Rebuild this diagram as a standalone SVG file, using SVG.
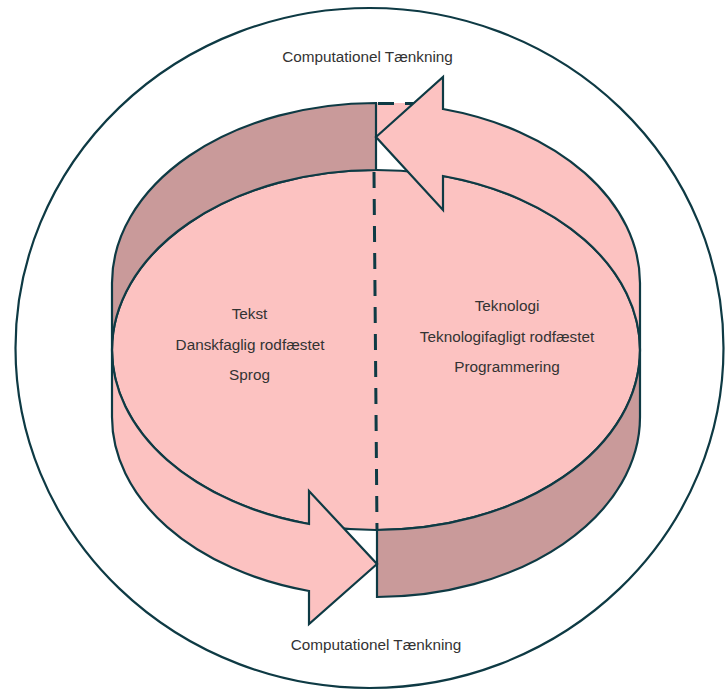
<svg xmlns="http://www.w3.org/2000/svg" width="726" height="691" viewBox="0 0 726 691">
<style>
.ln{stroke:#0e3a44;stroke-width:2.2;stroke-linejoin:miter}
.pink{fill:#fcc2c1}
.dark{fill:#c99a9a}
.dash{fill:none;stroke:#0e3a44;stroke-width:3;stroke-dasharray:16 11}
text{font-family:"Liberation Sans",Arial,sans-serif;font-size:15.3px;fill:#333333;text-anchor:middle}
</style>
<rect width="726" height="691" fill="#ffffff"/>
<g id="outer-circle">
<ellipse cx="369.5" cy="348" rx="354" ry="340" fill="#ffffff" class="ln"/>
</g>
<g id="top-face">
<ellipse cx="376" cy="350" rx="264" ry="180" class="pink ln"/>
</g>
<g id="hidden-top">
<polygon points="376,103 414,103 376,137" class="pink"/>
</g>
<g id="band-top-left">
<path d="M 376 103 A 264 180 0 0 0 112 283 L 112 350 A 264 180 0 0 1 376 170 Z" class="dark ln"/>
</g>
<g id="band-bottom-right">
<path d="M 377 530 A 264 180 0 0 0 640 350 L 640 417 A 264 180 0 0 1 377 597 Z" class="dark ln"/>
</g>
<g id="connectors">
<line x1="374" y1="172" x2="377" y2="530" class="dash"/>
<line x1="378" y1="103.5" x2="414" y2="103.5" class="dash" stroke-dasharray="12 8"/>
</g>
<g id="arrow-right">
<path d="M 640 350 A 264 180 0 0 0 443 176 L 443 210 L 376 137 L 443 77 L 443 109 A 264 180 0 0 1 640 283 Z" class="pink ln"/>
</g>
<g id="arrow-left">
<path d="M 112 350 A 264 180 0 0 0 309 524 L 309 491 L 377 564 L 309 624 L 309 591 A 264 180 0 0 1 112 417 Z" class="pink ln"/>
</g>
<g id="label-top">
<text x="367.5" y="62">Computationel Tænkning</text>
</g>
<g id="label-bottom">
<text x="376" y="650">Computationel Tænkning</text>
</g>
<g id="left-text">
<text x="249.5" y="319">Tekst</text>
<text x="250" y="350">Danskfaglig rodfæstet</text>
<text x="249.5" y="380">Sprog</text>
</g>
<g id="right-text">
<text x="507" y="311">Teknologi</text>
<text x="507" y="342">Teknologifagligt rodfæstet</text>
<text x="507" y="372">Programmering</text>
</g>
</svg>
